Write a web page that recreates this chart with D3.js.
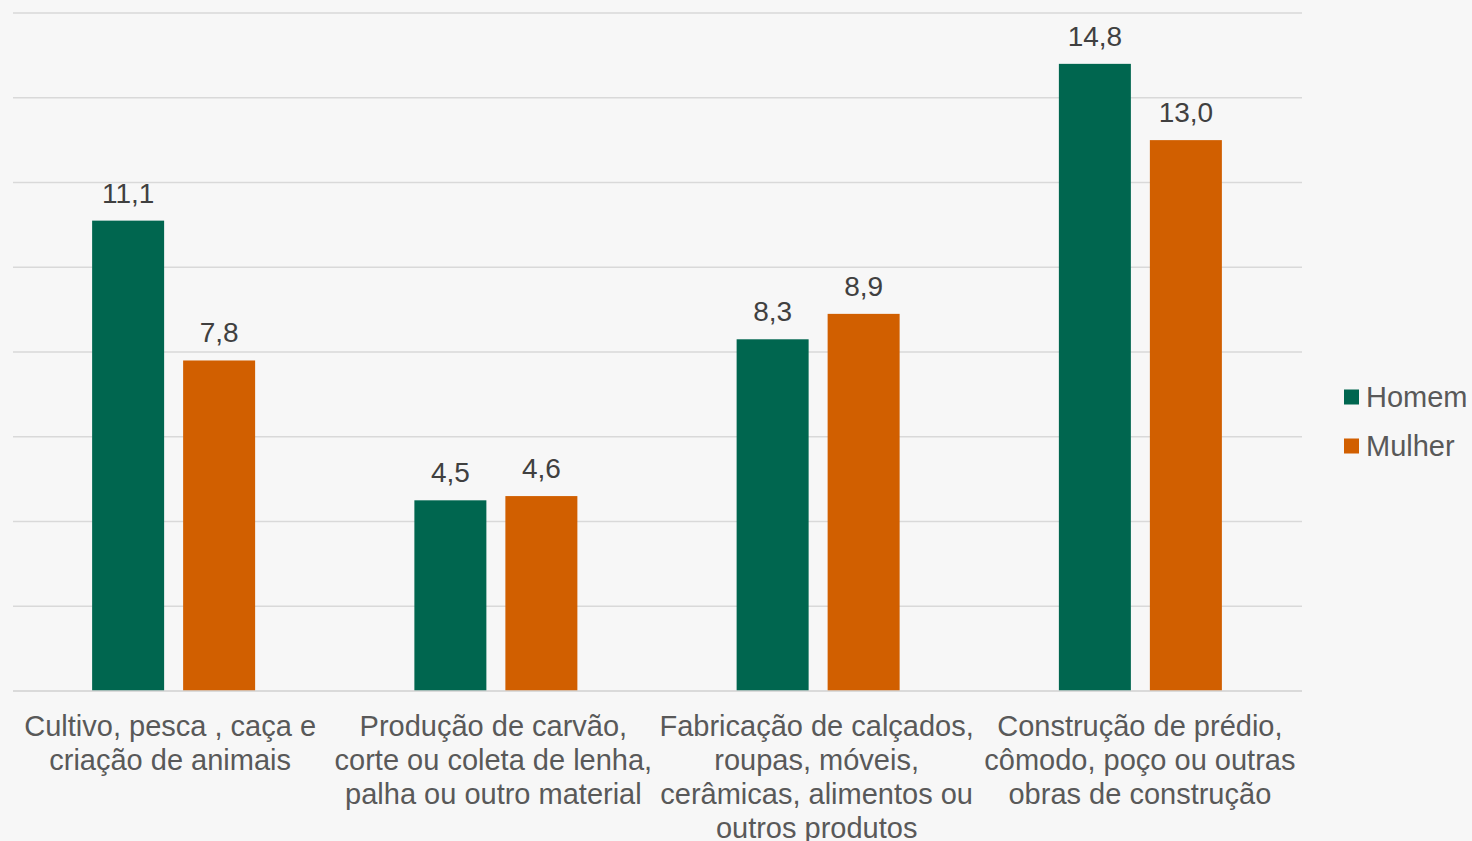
<!DOCTYPE html>
<html><head><meta charset="utf-8">
<script src="https://cdn.jsdelivr.net/npm/d3@7"></script>
<style>
html,body{margin:0;padding:0;background:#f7f7f7;}
svg{display:block;font-family:"Liberation Sans",Arial,sans-serif;}
</style></head>
<body>
<svg id="c" width="1472" height="841"></svg>
<script>
const categories = [
  ["Cultivo, pesca , caça e","criação de animais"],
  ["Produção de carvão,","corte ou coleta de lenha,","palha ou outro material"],
  ["Fabricação de calçados,","roupas, móveis,","cerâmicas, alimentos ou","outros produtos"],
  ["Construção de prédio,","cômodo, poço ou outras","obras de construção"]
];
const seriesNames = ["Homem","Mulher"];
const homem = [11.1, 4.5, 8.3, 14.8];
const mulher = [7.8, 4.6, 8.9, 13.0];
const yTicks = [0,2,4,6,8,10,12,14,16];
const colors = ["#00664f","#d15f00"];

const svg = d3.select("#c");
const pL = 13, pR = 1302, pT = 13, pB = 691;
const x0 = d3.scaleBand().domain(d3.range(categories.length)).range([pL,pR]);
const x1 = d3.scaleBand().domain([0,1]).range([0,163]).paddingInner(19/91);
const y = d3.scaleLinear().domain([0,16]).range([pB,pT]);

svg.append("g").selectAll("line").data(yTicks).join("line")
  .attr("x1",pL).attr("x2",pR)
  .attr("y1",d=>y(d)).attr("y2",d=>y(d))
  .attr("stroke","#d9d9d9").attr("stroke-width",1.5);

const data = categories.map((c,i)=>({i, vals:[homem[i],mulher[i]]}));
const groups = svg.append("g").selectAll("g").data(data).join("g")
  .attr("transform",d=>`translate(${x0(d.i)+x0.bandwidth()/2-82},0)`);
groups.selectAll("rect").data(d=>d.vals.map((v,k)=>({v,k}))).join("rect")
  .attr("x",d=>x1(d.k)).attr("width",x1.bandwidth())
  .attr("y",d=>y(d.v)).attr("height",d=>y(0)-y(d.v))
  .attr("fill",d=>colors[d.k]);
groups.selectAll("text").data(d=>d.vals.map((v,k)=>({v,k}))).join("text")
  .attr("x",d=>x1(d.k)+x1.bandwidth()/2).attr("y",d=>y(d.v)-18)
  .attr("text-anchor","middle").attr("font-size",28).attr("fill","#404040")
  .text(d=>d.v.toFixed(1).replace(".",","));

svg.append("line").attr("x1",pL).attr("x2",pR).attr("y1",y(0)).attr("y2",y(0))
  .attr("stroke","#d9d9d9").attr("stroke-width",1.5);

const lab = svg.append("g").selectAll("text").data(categories).join("text")
  .attr("text-anchor","middle").attr("font-size",29).attr("fill","#595959")
  .attr("transform",(d,i)=>`translate(${x0(i)+x0.bandwidth()/2-4+i},736)`);
lab.selectAll("tspan").data(d=>d).join("tspan")
  .attr("x",0).attr("y",(d,j)=>j*34).text(d=>d);

const lg = svg.append("g").selectAll("g").data(seriesNames).join("g")
  .attr("transform",(d,i)=>`translate(1344,${397+i*49})`);
lg.append("rect").attr("x",0).attr("y",-7.5).attr("width",15).attr("height",15).attr("fill",(d,i)=>colors[i]);
lg.append("text").attr("x",22).attr("y",10).attr("font-size",29).attr("fill","#595959").text(d=>d);
</script>
</body></html>
